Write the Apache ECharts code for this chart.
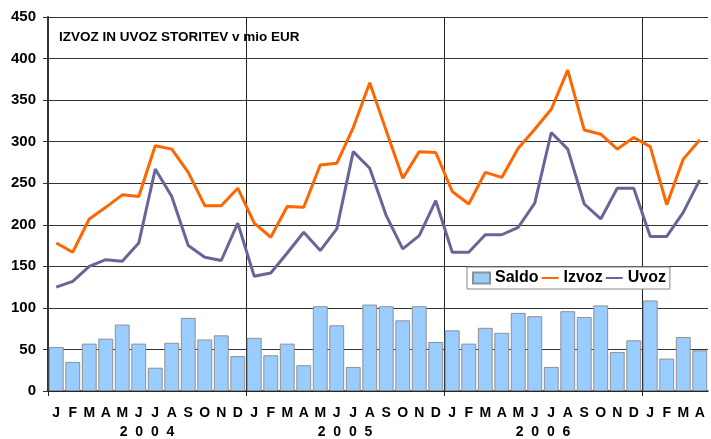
<!DOCTYPE html>
<html>
<head>
<meta charset="utf-8">
<script src="https://cdn.jsdelivr.net/npm/echarts@6/dist/echarts.min.js"></script>
<style>
  html, body { margin: 0; padding: 0; background: #fff; }
  #main { width: 711px; height: 439px; }
</style>
</head>
<body>
<div id="main"></div>
<script>
// mesecne oznake (2004 - apr 2007)
const months = [
  "J", "F", "M", "A", "M", "J", "J", "A", "S", "O", "N", "D",
  "J", "F", "M", "A", "M", "J", "J", "A", "S", "O", "N", "D",
  "J", "F", "M", "A", "M", "J", "J", "A", "S", "O", "N", "D",
  "J", "F", "M", "A"
];
const years = ["2  0  0  4", "2  0  0  5", "2  0  0  6"];

const izvoz = [
  178, 167, 207, 221, 236, 234, 295, 291, 263, 223, 223, 244,
  202, 185, 222, 221, 272, 274, 317, 371, 313, 256, 288, 287,
  240, 225, 263, 257, 292, 315, 339, 386, 314, 309, 291, 305,
  294, 224, 279, 302
];
const uvoz = [
  125, 132, 150, 158, 156, 178, 267, 234, 175, 161, 157, 202,
  138, 142, 166, 191, 169, 195, 288, 268, 211, 171, 187, 229,
  167, 167, 188, 188, 197, 226, 311, 291, 225, 207, 244, 244,
  186, 186, 215, 254
];
const saldo = [
  53, 35, 57, 63, 80, 57, 28, 58, 88, 62, 67, 42,
  64, 43, 57, 31, 102, 79, 29, 104, 102, 85, 102, 59,
  73, 57, 76, 70, 94, 90, 29, 96, 89, 103, 47, 61,
  109, 39, 65, 49
];

// robovi (41 tock) za letnice in locnice med leti
const edges = [];
for (let i = 0; i <= months.length; i++) edges.push(String(i));

const font = "Liberation Sans, Arial, sans-serif";

const myChart = echarts.init(document.getElementById("main"));
const option = {
  backgroundColor: "#fff",
  animation: false,
  title: {
    text: "IZVOZ IN UVOZ STORITEV v mio EUR",
    left: 59,
    top: 30,
    padding: 0,
    textStyle: { fontFamily: font, fontSize: 13.5, fontWeight: "bold", color: "#000" },
  },
  legend: {
    left: 467,
    top: 267,
    padding: [3, 4, 3, 5],
    itemGap: 2,
    itemWidth: 17,
    itemHeight: 11,
    backgroundColor: "#fff",
    borderColor: "#888",
    borderWidth: 1,
    data: [
      { name: "Saldo", icon: "rect" },
      { name: "Izvoz", itemStyle: { opacity: 0 } },
      { name: "Uvoz", itemStyle: { opacity: 0 } },
    ],
    textStyle: { fontFamily: font, fontSize: 16, fontWeight: "bold", color: "#000" },
  },
  grid: { left: 48, right: 1, top: 17, bottom: 48, containLabel: false },
  xAxis: [
    {
      type: "category",
      data: months,
      boundaryGap: true,
      axisLine: { show: true, lineStyle: { color: "#222", width: 1.5 } },
      axisTick: { show: false },
      splitLine: { show: false },
      axisLabel: {
        interval: 0,
        margin: 15,
        fontFamily: font,
        fontSize: 14,
        fontWeight: "bold",
        color: "#000",
      },
    },
    {
      type: "category",
      data: edges,
      boundaryGap: false,
      position: "bottom",
      axisLine: { show: false },
      axisTick: {
        show: true,
        length: 5,
        interval: (idx) => idx % 12 === 0,
        lineStyle: { color: "#222", width: 1 },
      },
      splitLine: {
        show: true,
        interval: (idx) => idx > 0 && idx % 12 === 0 && idx < months.length,
        lineStyle: { color: "#222", width: 1 },
      },
      axisLabel: {
        interval: 0,
        margin: 34,
        fontFamily: font,
        fontSize: 14,
        fontWeight: "bold",
        color: "#000",
        formatter: (v, idx) => (idx % 12 === 6 ? years[(idx - 6) / 12] || "" : ""),
      },
    },
  ],
  yAxis: {
    type: "value",
    min: 0,
    max: 450,
    interval: 50,
    axisLine: { show: true, lineStyle: { color: "#333", width: 2 } },
    axisTick: { show: true, length: 5, lineStyle: { color: "#333" } },
    splitLine: { show: true, lineStyle: { color: "#333", width: 1 } },
    axisLabel: {
      margin: 12,
      fontFamily: font,
      fontSize: 15,
      fontWeight: "bold",
      color: "#000",
    },
  },
  series: [
    {
      name: "Saldo",
      type: "bar",
      data: saldo,
      barCategoryGap: "10%",
      itemStyle: { color: "#99ccff", borderColor: "#909090", borderWidth: 1 },
    },
    {
      name: "Izvoz",
      type: "line",
      data: izvoz,
      symbol: "none",
      lineStyle: { color: "#ff6600", width: 3 },
      itemStyle: { color: "#ff6600" },
    },
    {
      name: "Uvoz",
      type: "line",
      data: uvoz,
      symbol: "none",
      lineStyle: { color: "#666699", width: 3 },
      itemStyle: { color: "#666699" },
    },
  ],
};
myChart.setOption(option);
</script>
</body>
</html>
